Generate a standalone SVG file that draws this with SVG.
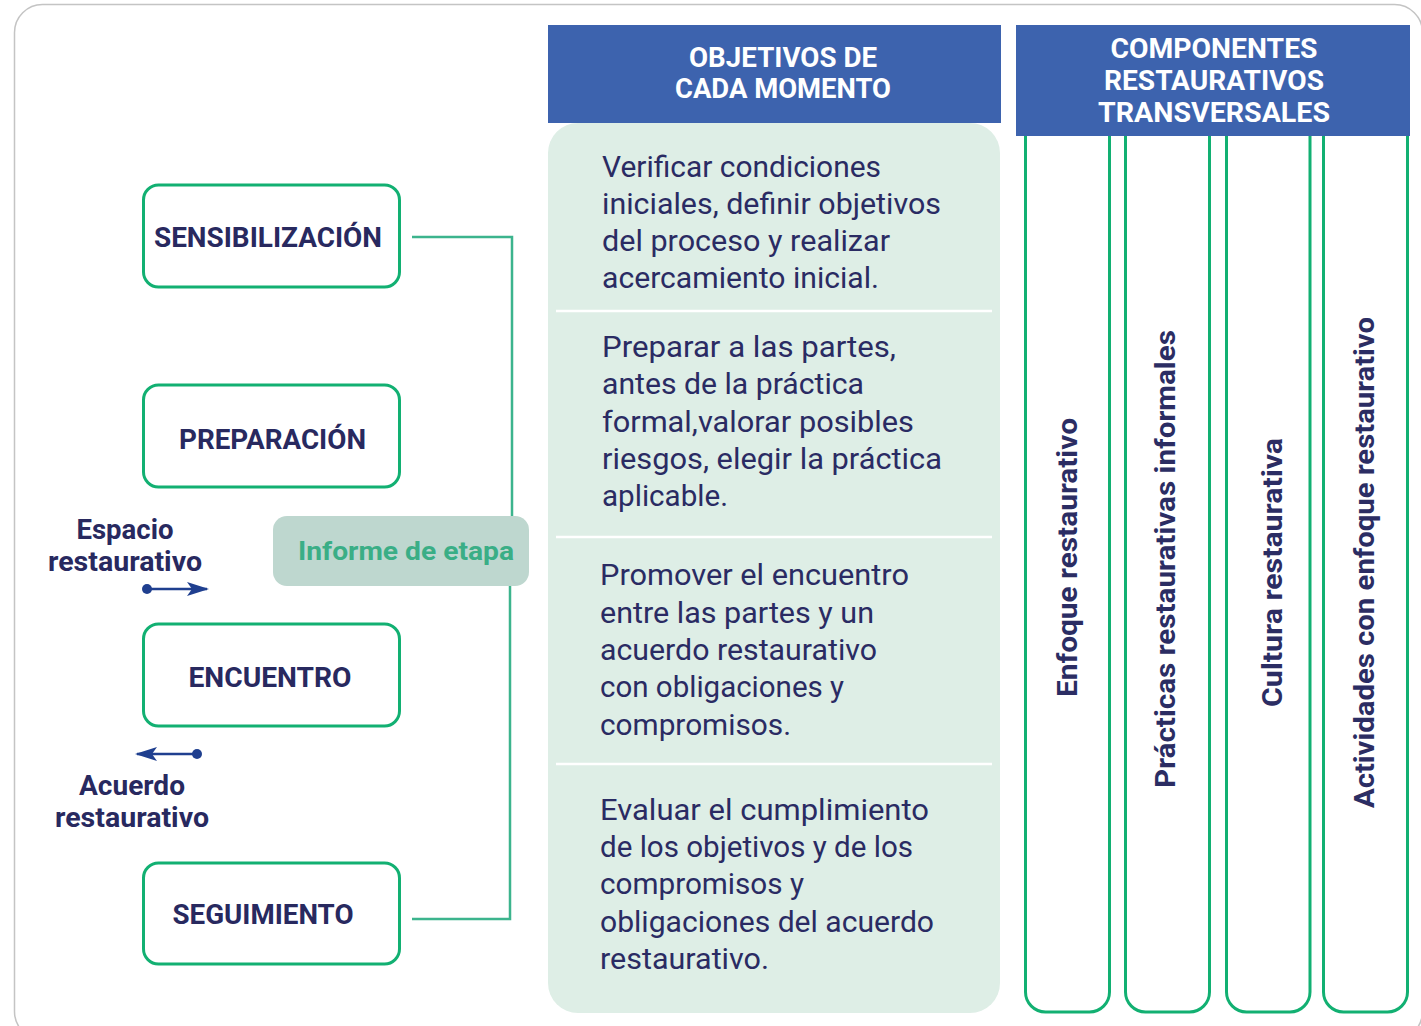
<svg xmlns="http://www.w3.org/2000/svg" width="1421" height="1026" viewBox="0 0 1421 1026">
<style>
.node{fill:#ffffff;stroke:#12b072;stroke-width:3}
.lbl{font-family:Roboto,"Liberation Sans",sans-serif;font-weight:700;fill:#28295f}
.nlbl{font-size:28px;text-anchor:middle}
.side{font-size:27px;text-anchor:middle}
.hdr{font-family:Roboto,"Liberation Sans",sans-serif;font-weight:700;fill:#ffffff;font-size:28px;text-anchor:middle}
.body{font-family:Roboto,"Liberation Sans",sans-serif;font-weight:400;fill:#2a2b63;font-size:30px}
.col{fill:none;stroke:#12b072;stroke-width:3}
.vt{font-family:Roboto,"Liberation Sans",sans-serif;font-weight:700;fill:#2b2d63;font-size:28px;text-anchor:middle}
.conn{fill:none;stroke:#3cb48d;stroke-width:2.5}
.sep{stroke:#ffffff;stroke-width:2.5}
.arr{stroke:#1f3f8f;stroke-width:2.5;fill:none}
</style>
<defs>
<marker id="ah" viewBox="0 0 22 14" refX="20" refY="7" markerWidth="22" markerHeight="14" markerUnits="userSpaceOnUse" orient="auto">
<path d="M0,0 L22,7 L0,14 L5,7 Z" fill="#1f3f8f"/>
</marker>
</defs>
<rect width="1421" height="1026" fill="#ffffff"/>
<rect x="14.5" y="4.5" width="1408" height="1035" rx="28" fill="none" stroke="#c4c4c4" stroke-width="1.5"/>

<g id="objetivos-panel">
<rect x="548" y="123" width="452" height="890" rx="30" fill="#deeee6"/>
<rect x="548" y="25" width="453" height="98" fill="#3d63ae"/>
<text class="hdr" x="783" y="67" textLength="188" lengthAdjust="spacingAndGlyphs">OBJETIVOS DE</text>
<text class="hdr" x="783" y="98" textLength="216" lengthAdjust="spacingAndGlyphs">CADA MOMENTO</text>
<line class="sep" x1="556" y1="311" x2="992" y2="311"/>
<line class="sep" x1="556" y1="537" x2="992" y2="537"/>
<line class="sep" x1="556" y1="764" x2="992" y2="764"/>
</g>

<g id="obj-sensibilizacion">
<text class="body" x="602" y="177" textLength="279" lengthAdjust="spacingAndGlyphs">Verificar condiciones</text>
<text class="body" x="602" y="214" textLength="339" lengthAdjust="spacingAndGlyphs">iniciales, definir objetivos</text>
<text class="body" x="602" y="251" textLength="288" lengthAdjust="spacingAndGlyphs">del proceso y realizar</text>
<text class="body" x="602" y="288" textLength="277" lengthAdjust="spacingAndGlyphs">acercamiento inicial.</text>
</g>
<g id="obj-preparacion">
<text class="body" x="602" y="357" textLength="294" lengthAdjust="spacingAndGlyphs">Preparar a las partes,</text>
<text class="body" x="602" y="394" textLength="262" lengthAdjust="spacingAndGlyphs">antes de la práctica</text>
<text class="body" x="602" y="432" textLength="312" lengthAdjust="spacingAndGlyphs">formal,valorar posibles</text>
<text class="body" x="602" y="469" textLength="340" lengthAdjust="spacingAndGlyphs">riesgos, elegir la práctica</text>
<text class="body" x="602" y="506" textLength="126" lengthAdjust="spacingAndGlyphs">aplicable.</text>
</g>
<g id="obj-encuentro">
<text class="body" x="600" y="585" textLength="309" lengthAdjust="spacingAndGlyphs">Promover el encuentro</text>
<text class="body" x="600" y="623" textLength="274" lengthAdjust="spacingAndGlyphs">entre las partes y un</text>
<text class="body" x="600" y="660" textLength="277" lengthAdjust="spacingAndGlyphs">acuerdo restaurativo</text>
<text class="body" x="600" y="697" textLength="244" lengthAdjust="spacingAndGlyphs">con obligaciones y</text>
<text class="body" x="600" y="735" textLength="191" lengthAdjust="spacingAndGlyphs">compromisos.</text>
</g>
<g id="obj-seguimiento">
<text class="body" x="600" y="820" textLength="329" lengthAdjust="spacingAndGlyphs">Evaluar el cumplimiento</text>
<text class="body" x="600" y="857" textLength="313" lengthAdjust="spacingAndGlyphs">de los objetivos y de los</text>
<text class="body" x="600" y="894" textLength="204" lengthAdjust="spacingAndGlyphs">compromisos y</text>
<text class="body" x="600" y="932" textLength="334" lengthAdjust="spacingAndGlyphs">obligaciones del acuerdo</text>
<text class="body" x="600" y="969" textLength="169" lengthAdjust="spacingAndGlyphs">restaurativo.</text>
</g>

<g id="componentes-header">
<rect x="1016" y="25" width="394" height="111" fill="#3d63ae"/>
<text class="hdr" x="1214" y="58" textLength="207" lengthAdjust="spacingAndGlyphs">COMPONENTES</text>
<text class="hdr" x="1214" y="90" textLength="220" lengthAdjust="spacingAndGlyphs">RESTAURATIVOS</text>
<text class="hdr" x="1214" y="122" textLength="232" lengthAdjust="spacingAndGlyphs">TRANSVERSALES</text>
</g>

<g id="col-enfoque">
<path class="col" d="M1025.5,136 V992 A20,20 0 0 0 1045.5,1012 H1089.5 A20,20 0 0 0 1109.5,992 V136"/>
<text class="vt" transform="translate(1077,557.5) rotate(-90)" textLength="279" lengthAdjust="spacingAndGlyphs">Enfoque restaurativo</text>
</g>
<g id="col-practicas">
<path class="col" d="M1125.5,136 V992 A20,20 0 0 0 1145.5,1012 H1189.5 A20,20 0 0 0 1209.5,992 V136"/>
<text class="vt" transform="translate(1175,559) rotate(-90)" textLength="458" lengthAdjust="spacingAndGlyphs">Prácticas restaurativas informales</text>
</g>
<g id="col-cultura">
<path class="col" d="M1226.5,136 V992 A20,20 0 0 0 1246.5,1012 H1290 A20,20 0 0 0 1310,992 V136"/>
<text class="vt" transform="translate(1282,572.5) rotate(-90)" textLength="269" lengthAdjust="spacingAndGlyphs">Cultura restaurativa</text>
</g>
<g id="col-actividades">
<path class="col" d="M1323.5,136 V992 A20,20 0 0 0 1343.5,1012 H1387.5 A20,20 0 0 0 1407.5,992 V136"/>
<text class="vt" transform="translate(1374,562.5) rotate(-90)" textLength="491" lengthAdjust="spacingAndGlyphs">Actividades con enfoque restaurativo</text>
</g>

<g id="connectors">
<path class="conn" d="M412,237 H512 V520"/>
<path class="conn" d="M510,584 V919 H412"/>
<line class="arr" x1="147" y1="589" x2="207" y2="589" marker-end="url(#ah)"/>
<circle cx="147" cy="589" r="5" fill="#1f3f8f"/>
<line class="arr" x1="197" y1="754" x2="137" y2="754" marker-end="url(#ah)"/>
<circle cx="197" cy="754" r="5" fill="#1f3f8f"/>
</g>

<g id="node-sensibilizacion">
<rect class="node" x="143.5" y="185" width="256" height="102" rx="15"/>
<text class="lbl nlbl" x="268" y="247" textLength="228" lengthAdjust="spacingAndGlyphs">SENSIBILIZACIÓN</text>
</g>
<g id="node-preparacion">
<rect class="node" x="143.5" y="385" width="256" height="102" rx="15"/>
<text class="lbl nlbl" x="272.5" y="449" textLength="187" lengthAdjust="spacingAndGlyphs">PREPARACIÓN</text>
</g>
<g id="node-encuentro">
<rect class="node" x="143.5" y="624" width="256" height="102" rx="15"/>
<text class="lbl nlbl" x="270" y="687" textLength="163" lengthAdjust="spacingAndGlyphs">ENCUENTRO</text>
</g>
<g id="node-seguimiento">
<rect class="node" x="143.5" y="863" width="256" height="101" rx="15"/>
<text class="lbl nlbl" x="263" y="924" textLength="181" lengthAdjust="spacingAndGlyphs">SEGUIMIENTO</text>
</g>

<g id="informe-etapa">
<rect x="273" y="516" width="256" height="70" rx="14" fill="#bed7cf"/>
<text x="406" y="560" font-family="Roboto, 'Liberation Sans', sans-serif" font-weight="700" font-size="26" fill="#3aae86" text-anchor="middle" textLength="216" lengthAdjust="spacingAndGlyphs">Informe de etapa</text>
</g>

<g id="label-espacio">
<text class="lbl side" x="125" y="539" textLength="97" lengthAdjust="spacingAndGlyphs">Espacio</text>
<text class="lbl side" x="125" y="571" textLength="154" lengthAdjust="spacingAndGlyphs">restaurativo</text>
</g>
<g id="label-acuerdo">
<text class="lbl side" x="132" y="795" textLength="106" lengthAdjust="spacingAndGlyphs">Acuerdo</text>
<text class="lbl side" x="132" y="827" textLength="154" lengthAdjust="spacingAndGlyphs">restaurativo</text>
</g>
</svg>
